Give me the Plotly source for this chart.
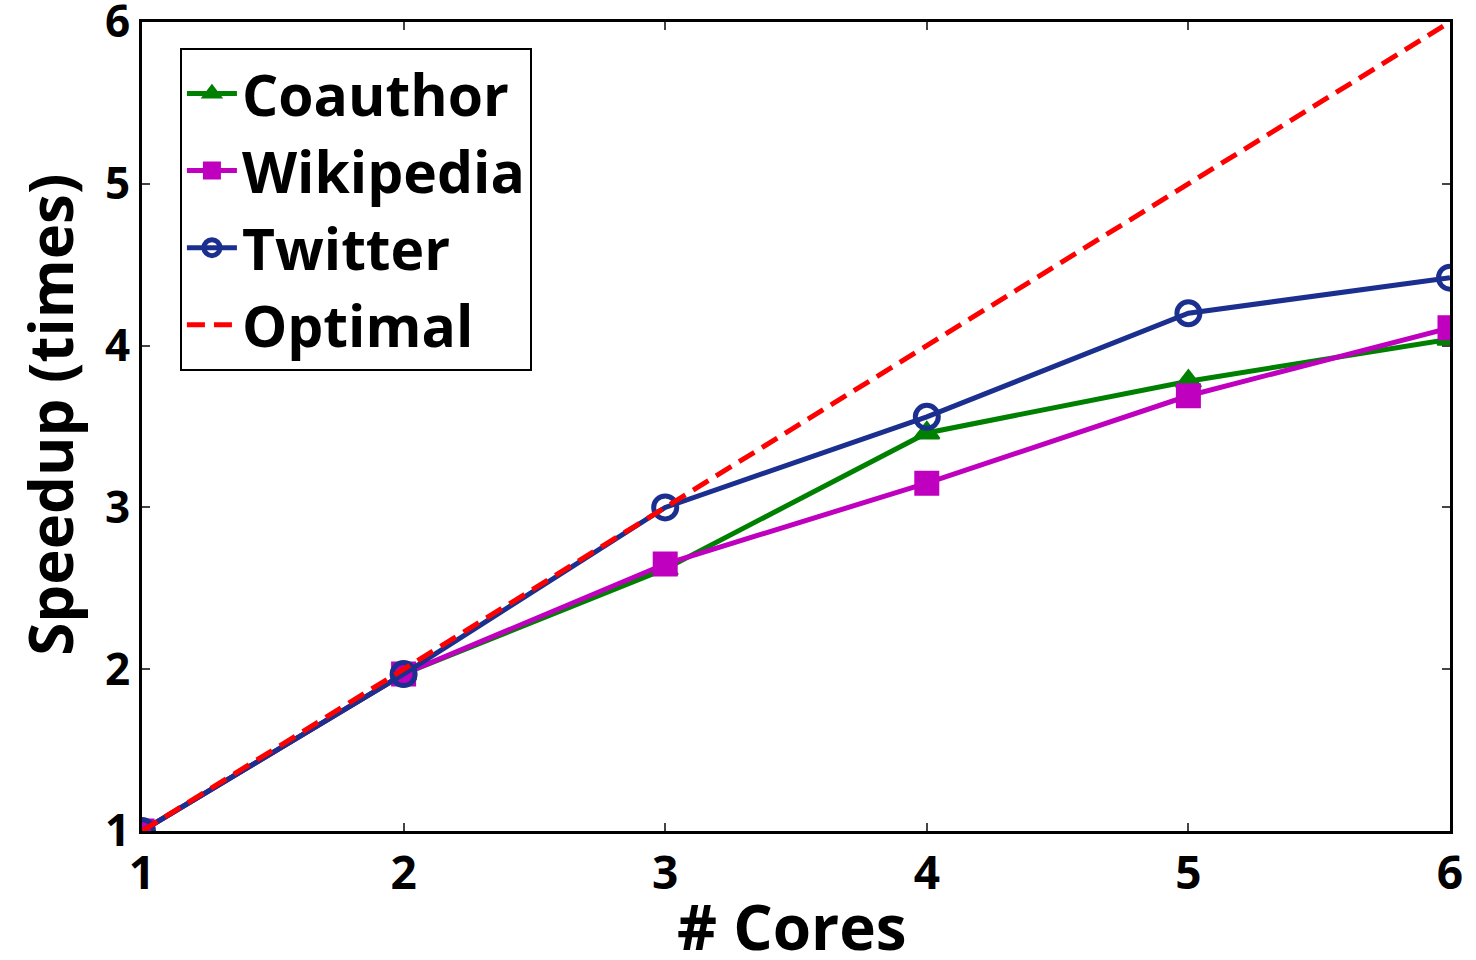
import plotly.graph_objects as go

cores = [1, 2, 3, 4, 5, 6]
coauthor = [1.0, 1.97, 2.62, 3.46, 3.78, 4.04]
wikipedia = [1.0, 1.97, 2.65, 3.15, 3.69, 4.11]
twitter = [1.0, 1.97, 3.0, 3.56, 4.2, 4.42]
optimal = [1, 2, 3, 4, 5, 6]
xticks = [1, 2, 3, 4, 5, 6]
yticks = [1, 2, 3, 4, 5, 6]

FONT = "Open Sans"

fig = go.Figure()
fig.add_trace(go.Scatter(x=cores, y=coauthor, name="Coauthor", mode="lines+markers",
                         line=dict(color="#008000", width=5),
                         marker=dict(symbol="triangle-up", size=22, color="#008000",
                                     line=dict(color="#008000", width=2))))
fig.add_trace(go.Scatter(x=cores, y=wikipedia, name="Wikipedia", mode="lines+markers",
                         line=dict(color="#BF00BF", width=5),
                         marker=dict(symbol="square", size=23, color="#BF00BF",
                                     line=dict(color="#BF00BF", width=2))))
fig.add_trace(go.Scatter(x=cores, y=twitter, name="Twitter", mode="lines+markers",
                         line=dict(color="#1B2F8F", width=5),
                         marker=dict(symbol="circle-open", size=23, color="#1B2F8F",
                                     line=dict(color="#1B2F8F", width=5))))
fig.add_trace(go.Scatter(x=cores, y=optimal, name="Optimal", mode="lines",
                         line=dict(color="#FF0000", width=5, dash="18px,9px")))

fig.update_layout(
    width=1476, height=960,
    margin=dict(l=142, r=26, t=22, b=129, autoexpand=False),
    paper_bgcolor="white", plot_bgcolor="white",
    font=dict(family=FONT, color="black"),
    showlegend=True,
    legend=dict(x=0.029, y=0.968, xanchor="left", yanchor="top",
                bordercolor="black", borderwidth=2, bgcolor="white",
                font=dict(family=FONT, size=57, weight="bold"),
                tracegroupgap=0, itemwidth=50),
    annotations=[
        dict(text="# Cores", xref="paper", yref="paper", x=0.497, y=-0.118,
             xanchor="center", yanchor="middle", showarrow=False,
             font=dict(family=FONT, size=62, weight="bold")),
        dict(text="Speedup (times)", xref="paper", yref="paper", x=-0.07, y=0.515,
             xanchor="center", yanchor="middle", showarrow=False, textangle=-90,
             font=dict(family=FONT, size=60, weight="bold")),
    ],
)
fig.update_xaxes(range=[1, 6], tickvals=xticks, ticks="inside", ticklen=8, tickwidth=2,
                 showline=True, linecolor="black", linewidth=3, mirror="ticks",
                 showgrid=False, zeroline=False, automargin=False,
                 ticklabeloverflow="allow",
                 tickfont=dict(family=FONT, size=46, weight="bold"))
fig.update_yaxes(range=[1, 6], tickvals=yticks, ticks="inside", ticklen=8, tickwidth=2,
                 showline=True, linecolor="black", linewidth=3, mirror="ticks",
                 showgrid=False, zeroline=False, automargin=False,
                 ticklabeloverflow="allow",
                 tickfont=dict(family=FONT, size=44, weight="bold"))

fig.write_html("out.html", config={"displayModeBar": False},
               post_script="document.body.style.margin='0';document.body.style.overflow='hidden';")
